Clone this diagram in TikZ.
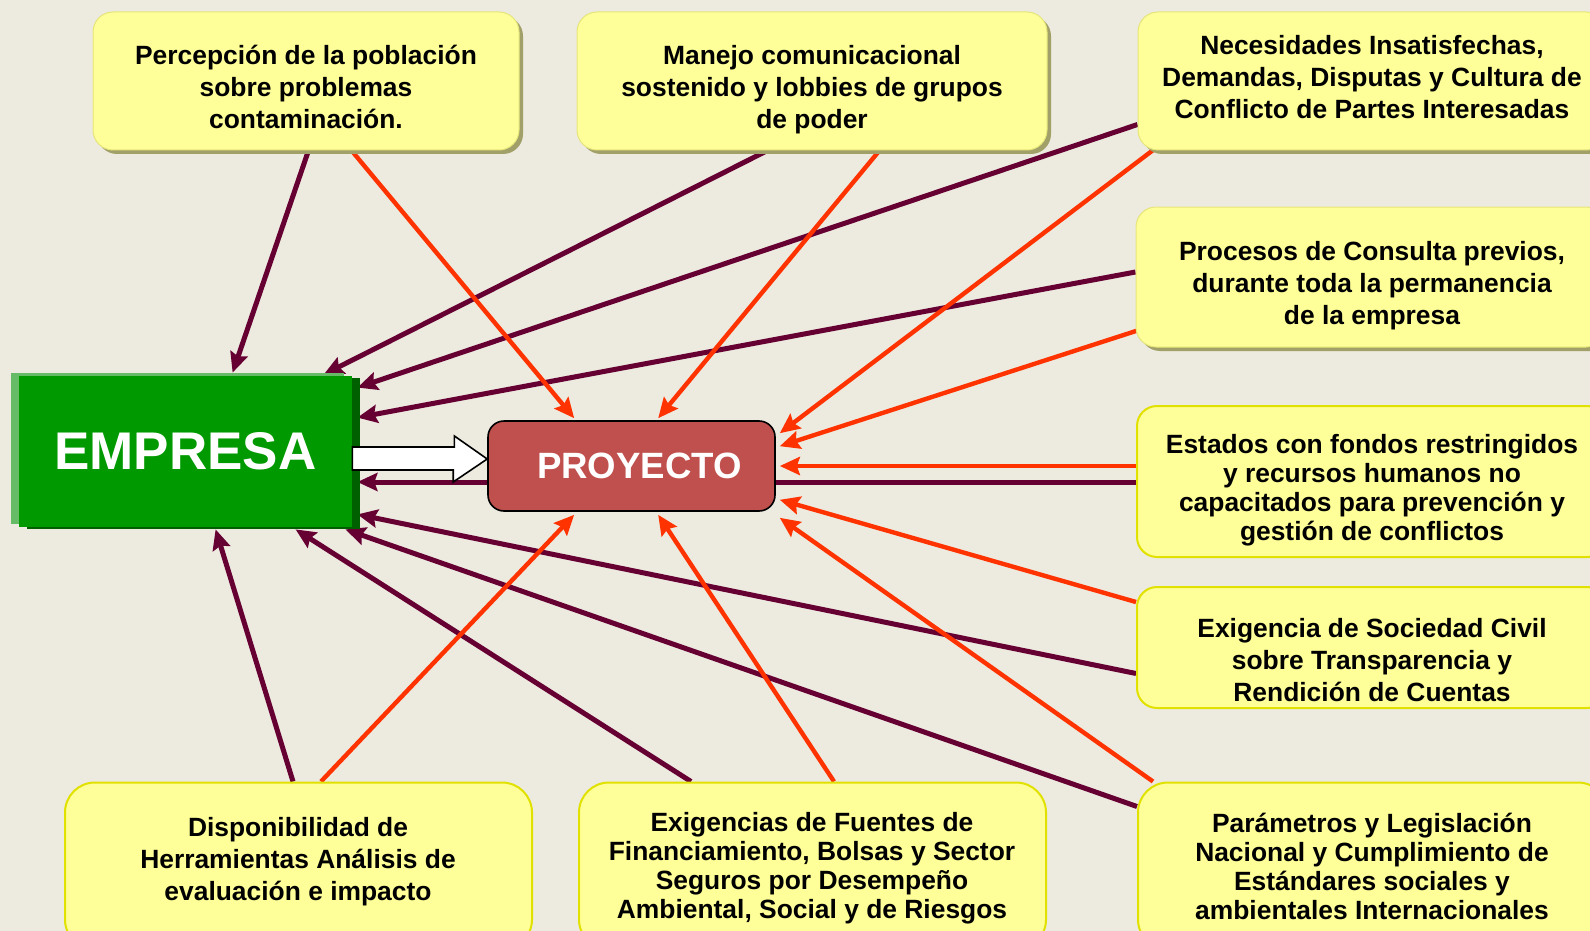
\documentclass[tikz,border=0pt]{standalone}
\usepackage{fontspec}
\setmainfont{Liberation Sans}
\usetikzlibrary{positioning, arrows.meta, shadows}
\definecolor{fondo}{RGB}{237,234,224}
\definecolor{amarillo}{RGB}{255,255,153}
\definecolor{bordeam}{RGB}{225,225,0}
\definecolor{sombra}{RGB}{160,160,104}
\definecolor{verde}{RGB}{0,153,0}
\definecolor{verdeclaro}{RGB}{102,187,102}
\definecolor{verdeosc}{RGB}{0,96,0}
\definecolor{rojoproy}{RGB}{192,80,77}
\definecolor{granate}{RGB}{102,0,51}
\definecolor{naranja}{RGB}{255,51,0}
\pgfdeclarelayer{capafondo}
\pgfdeclarelayer{lineas}
\pgfsetlayers{capafondo,lineas,main}
\tikzset{caja/.style={rectangle, rounded corners=10pt, fill=amarillo, draw=bordeam, line width=1pt}}
\tikzset{cajasup/.style={caja, draw=amarillo!80!olive, line width=0.5pt, drop shadow={fill=sombra, opacity=1, shadow xshift=2pt, shadow yshift=-2pt}}}
\tikzset{cajainf/.style={caja, rounded corners=15pt}}
\tikzset{texto/.style={align=center, font=\bfseries\fontsize{13.2pt}{16pt}\selectfont}}
\tikzset{textoj/.style={align=center, font=\bfseries\fontsize{13.2pt}{14.5pt}\selectfont}}
\tikzset{empresa/.style={rectangle, fill=verde, text=white, minimum width=166.5pt, minimum height=75.5pt, font=\bfseries\fontsize{26.5pt}{30pt}\selectfont, general shadow={fill=verdeclaro, shadow xshift=-4pt, shadow yshift=1.5pt}, general shadow={fill=verdeosc, shadow xshift=4pt, shadow yshift=-1pt}}}
\tikzset{proyecto/.style={rectangle, rounded corners=8pt, fill=rojoproy, draw=black, line width=0.8pt, text=white, minimum width=143.5pt, minimum height=45pt, font=\bfseries\fontsize{18.3pt}{22pt}\selectfont}}
\tikzset{flechaosc/.style={granate, line width=2.5pt, -{Stealth[length=10pt,width=9pt,inset=1.5pt]}}}
\tikzset{flecharoja/.style={naranja, line width=2.2pt, -{Stealth[length=10pt,width=9pt,inset=1.5pt]}}}
\begin{document}
\begin{tikzpicture}[x=0.5pt, y=-0.5pt]
\begin{pgfonlayer}{capafondo}
\fill[fondo] (0,0) rectangle (1590,931);
\end{pgfonlayer}
\useasboundingbox (0,0) rectangle (1590,931);

% cajas de arriba y derecha
\node[cajasup, minimum width=213pt, minimum height=69pt] (b1) at (306,81) {};
\node[cajasup, minimum width=235pt, minimum height=69pt] (b2) at (812,81) {};
\node[cajasup, minimum width=234pt, minimum height=69pt] (b3) at (1372,81) {};
\node[cajasup, minimum width=235pt, minimum height=70pt] (b4) at (1371,277) {};
\node[caja, minimum width=235pt, minimum height=75.5pt] (b5) at (1372,481.5) {};
\node[caja, minimum width=235pt, minimum height=60.5pt] (b6) at (1372,647.5) {};
% cajas de abajo
\node[cajainf, minimum width=235pt, minimum height=83.5pt] (b7) at (1373,866) {};
\node[cajainf, minimum width=233.5pt, minimum height=83.5pt] (b8) at (298.5,866) {};
\node[cajainf, minimum width=233.5pt, minimum height=83.5pt] (b9) at (812.5,866) {};

\node[texto] (t1) at (306,87) {Percepción de la población\\sobre problemas\\contaminación.};
\node[texto] (t2) at (812,90) {Manejo comunicacional\\sostenido y lobbies de grupos\\de poder};
\node[texto] (t3) at (1372,77) {Necesidades Insatisfechas,\\Demandas, Disputas y Cultura de\\Conflicto de Partes Interesadas};
\node[texto] (t4) at (1372,286) {Procesos de Consulta previos,\\durante toda la permanencia\\de la empresa};
\node[textoj] (t5) at (1372,490) {Estados con fondos restringidos\\y recursos humanos no\\capacitados para prevención y\\gestión de conflictos};
\node[texto] (t6) at (1372,660) {Exigencia de Sociedad Civil\\sobre Transparencia y\\Rendición de Cuentas};
\node[textoj] (t7) at (1372,866) {Parámetros y Legislación\\Nacional y Cumplimiento de\\Estándares sociales y\\ambientales Internacionales};
\node[texto] (t8) at (298,862) {Disponibilidad de\\Herramientas Análisis de\\evaluación e impacto};
\node[textoj] (t9) at (812,868) {Exigencias de Fuentes de\\Financiamiento, Bolsas y Sector\\Seguros por Desempeño\\Ambiental, Social y de Riesgos};

\node[empresa] (emp) at (185.5,451.5) {EMPRESA};
\node[proyecto] (proy) at (631.5,466) {\hspace*{8pt}PROYECTO};

\begin{pgfonlayer}{lineas}
% hacia la empresa
\draw[flechaosc] ([shift={(216,0)}]b1.south west) -- ([shift={(214,-3)}]emp.north west);
\draw[flechaosc] ([shift={(191,0)}]b2.south west) -- ([shift={(305,-1)}]emp.north west);
\draw[flechaosc] ([shift={(0,-26)}]b3.south west) -- ([shift={(5,12)}]emp.north east);
\draw[flechaosc] ([shift={(0,-5)}]b4.west) -- ([shift={(5,42)}]emp.north east);
\draw[flechaosc] ([shift={(0,0.5)}]b5.west) -- ([shift={(5,30.5)}]emp.east);
\draw[flechaosc] ([shift={(0,26)}]b6.west) -- ([shift={(5,-13)}]emp.south east);
\draw[flechaosc] ([shift={(0,25)}]b7.north west) -- ([shift={(-7,2)}]emp.south east);
\draw[flechaosc] ([shift={(113,0)}]b9.north west) -- ([shift={(277,2)}]emp.south west);
\draw[flechaosc] ([shift={(229,0)}]b8.north west) -- ([shift={(197,2)}]emp.south west);
% hacia el proyecto
\draw[flecharoja] ([shift={(259,0)}]b1.south west) -- ([shift={(87,-2)}]proy.north west);
\draw[flecharoja] ([shift={(303,0)}]b2.south west) -- ([shift={(171,-2)}]proy.north west);
\draw[flecharoja] ([shift={(15,0)}]b3.south west) -- ([shift={(4,13)}]proy.north east);
\draw[flecharoja] ([shift={(2,-17)}]b4.south west) -- ([shift={(4,26)}]proy.north east);
\draw[flecharoja] ([shift={(0,-15.5)}]b5.west) -- ([shift={(4,0)}]proy.east);
\draw[flecharoja] ([shift={(0,16)}]b6.north west) -- ([shift={(4,-12)}]proy.south east);
\draw[flecharoja] ([shift={(16,0)}]b7.north west) -- ([shift={(4,6)}]proy.south east);
\draw[flecharoja] ([shift={(256,0)}]b9.north west) -- ([shift={(171,3)}]proy.south west);
\draw[flecharoja] ([shift={(257,0)}]b8.north west) -- ([shift={(87,3)}]proy.south west);
\end{pgfonlayer}

% flecha blanca
\draw[fill=white, line width=0.8pt] ([shift={(0,-4.5)}]emp.east) -- ++(102,0) -- ++(0,-11) -- ([shift={(0,-7)}]proy.west) -- ++(-34,23) -- ++(0,-12) -- ([shift={(0,18.5)}]emp.east) -- cycle;
\end{tikzpicture}
\end{document}
